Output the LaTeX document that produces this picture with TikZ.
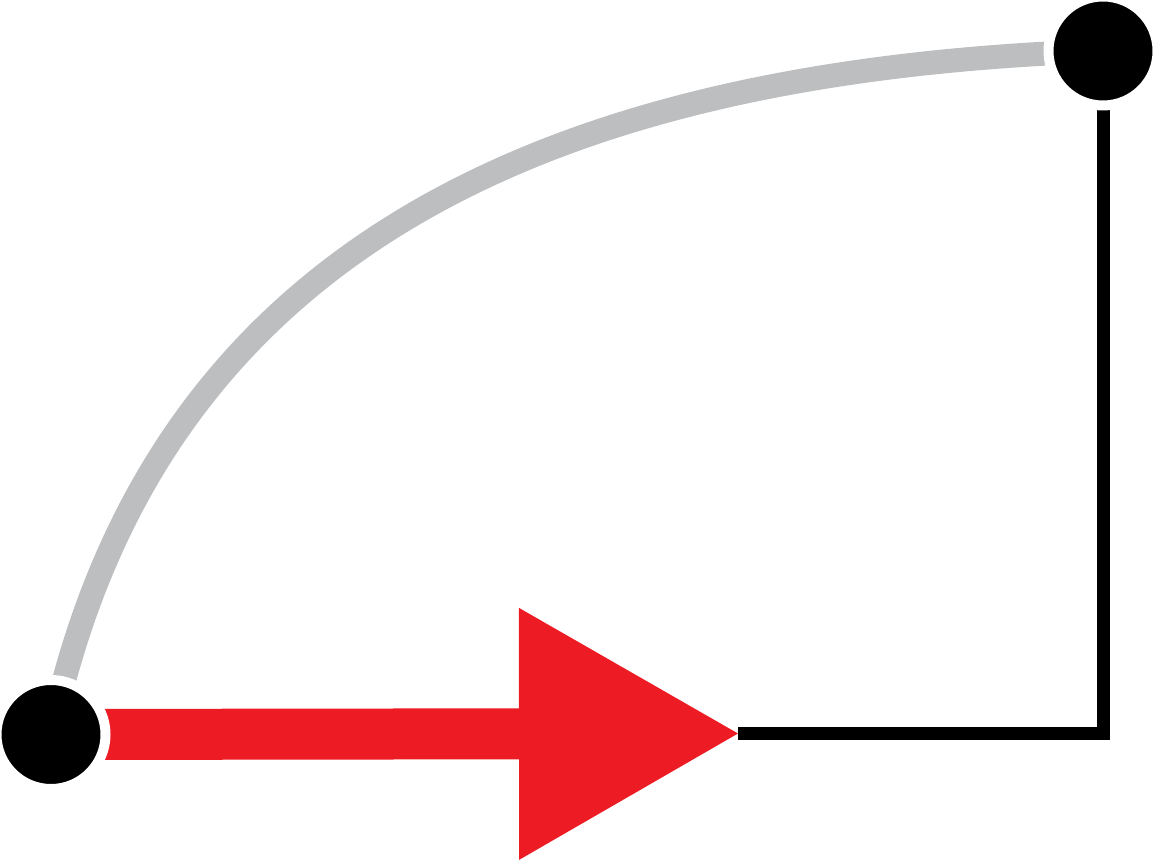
\documentclass[tikz,border=0pt]{standalone}
\usepackage{tikz}
\usetikzlibrary{
  arrows.meta,
  backgrounds,
  calc
}
\definecolor{pathGrey}{HTML}{BCBEC0}
\definecolor{vectorRed}{HTML}{ED1C24}
\tikzset{
  end point/.style={circle,fill=black,draw=white,line width=0.2cm,minimum size=2.18cm,inner sep=0pt},
  long path/.style={draw=pathGrey,line width=0.48cm},
  short path/.style={draw=black,line width=0.26cm,line join=miter},
  vector/.style={draw=vectorRed,line width=1.02cm,-{Triangle[length=4.38cm,width=5.04cm,line width=0pt]}},
}
\begin{document}
\begin{tikzpicture}
\useasboundingbox (0,0) rectangle (23.06,17.2);
\node[end point] (start) at (1.02,2.51) {};
\node[end point] (finish) at (22.06,16.18) {};
\coordinate (tip) at (14.76,2.53);
\begin{scope}[on background layer]
\draw[long path] (start.center) to[out=78,in=182,looseness=1.06] (finish.center);
\draw[short path] (tip) -- (tip -| finish) -- (finish.center);
\draw[vector] (start.center) -- (tip);
\end{scope}
\end{tikzpicture}
\end{document}
